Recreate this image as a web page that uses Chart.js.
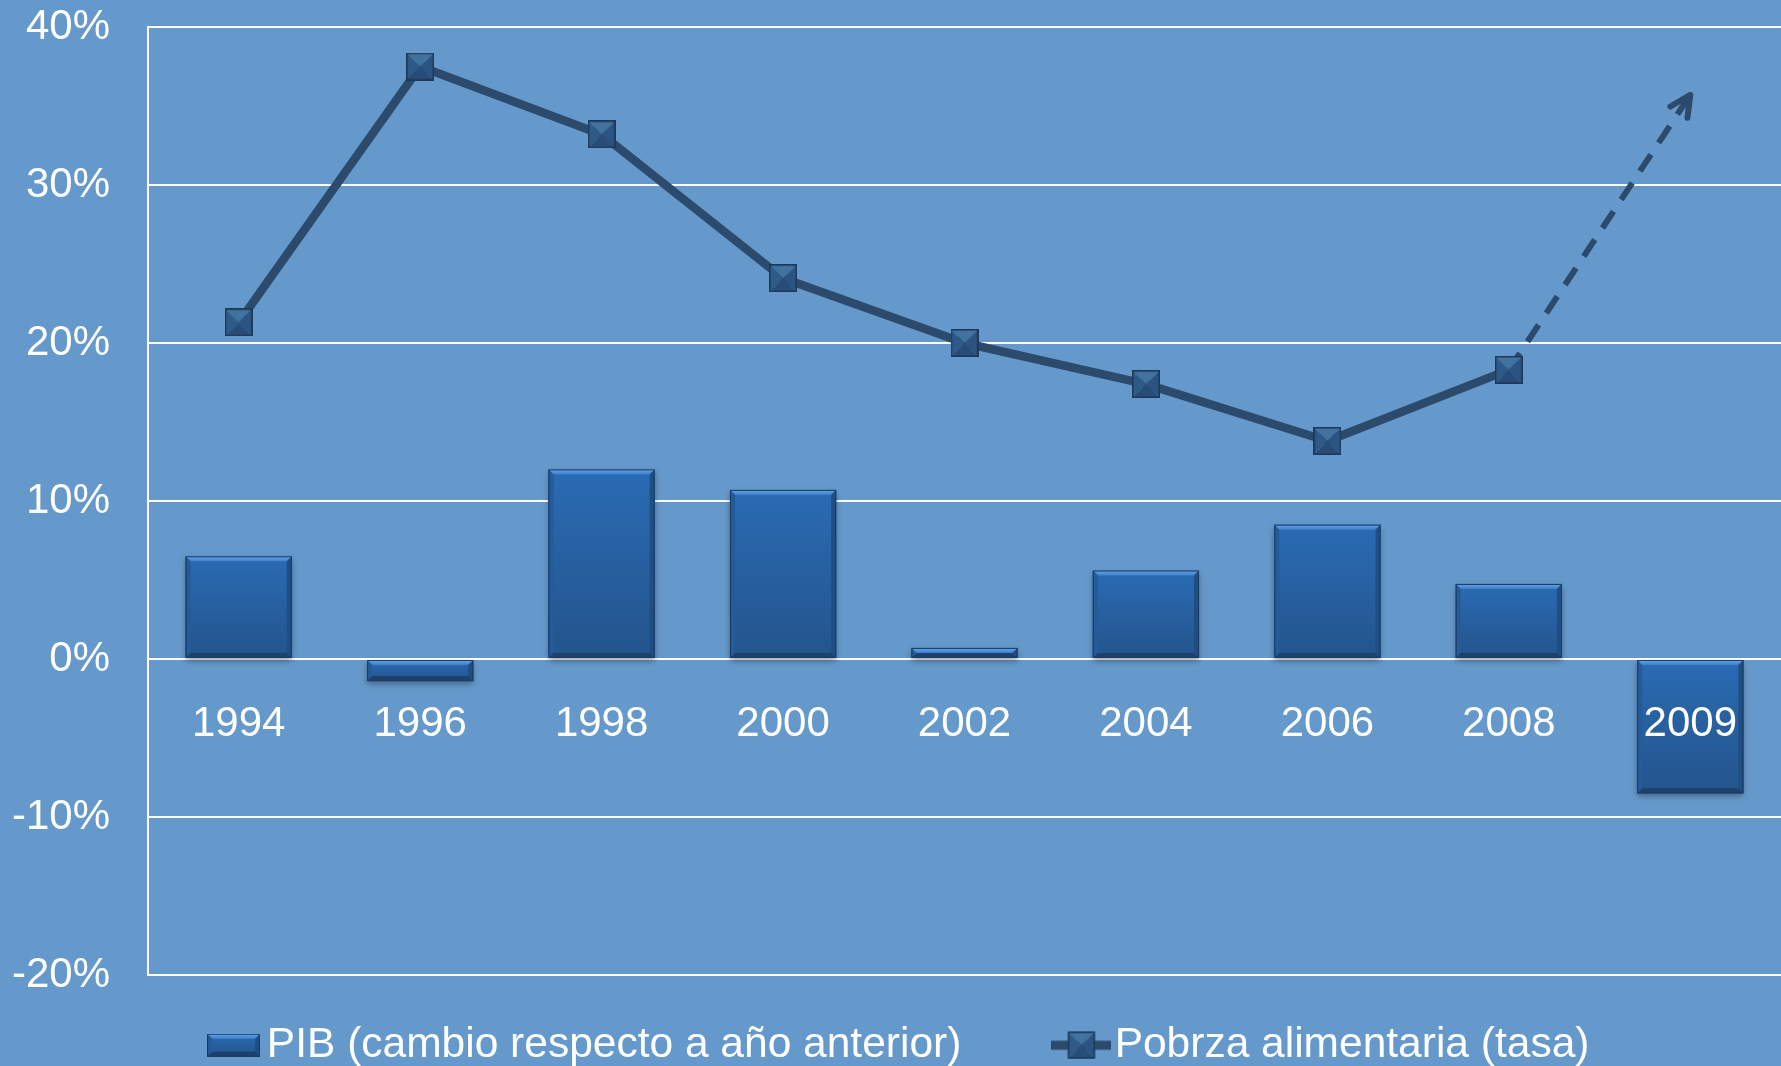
<!DOCTYPE html>
<html><head><meta charset="utf-8">
<script src="https://cdn.jsdelivr.net/npm/chart.js@4.4.1/dist/chart.umd.min.js"></script>
<style>
html,body{margin:0;padding:0;background:#6699cb;overflow:hidden}
#wrap{width:1781px;height:1066px;position:relative}
</style>
</head><body><div id="wrap"><canvas id="c"></canvas></div>
<script>
const categories = ['1994','1996','1998','2000','2002','2004','2006','2008','2009'];
const pibValues = [6.5, -1.4, 12.0, 10.7, 0.7, 5.6, 8.5, 4.75, -8.5];
const pobrezaValues = [21.3, 37.5, 33.2, 24.1, 20.0, 17.4, 13.8, 18.3, null];
const pobrezaProjection = [null, null, null, null, null, null, null, 18.3, 35.7];
const yMin = -20, yMax = 40, yStep = 10;
const seriesNames = ['PIB (cambio respecto a año anterior)', 'Pobrza alimentaria (tasa)'];

const FONT = "'Liberation Sans', Arial, sans-serif";
const LINE_COLOR = '#2c4a6c';

function drawPyramid(g, x, y, s) {
  const m = s / 2;
  const tri = (a, b, c, col) => { g.beginPath(); g.moveTo(a[0], a[1]); g.lineTo(b[0], b[1]); g.lineTo(c[0], c[1]); g.closePath(); g.fillStyle = col; g.fill(); };
  tri([x, y], [x + s, y], [x + m, y + m], '#42729f');
  tri([x, y], [x, y + s], [x + m, y + m], '#2f5a87');
  tri([x + s, y], [x + s, y + s], [x + m, y + m], '#2b5482');
  tri([x, y + s], [x + s, y + s], [x + m, y + m], '#264c77');
  g.strokeStyle = '#1c3859'; g.lineWidth = 1.5; g.strokeRect(x + 0.75, y + 0.75, s - 1.5, s - 1.5);
}
function makeMarker(s) {
  const c = document.createElement('canvas'); c.width = s; c.height = s;
  drawPyramid(c.getContext('2d'), 0, 0, s);
  return c;
}
function drawBevelBar(g, l, t, r, b) {
  const h = b - t, w = r - l;
  const e = Math.min(5, h / 2, w / 2);
  const grad = g.createLinearGradient(0, t, 0, b);
  grad.addColorStop(0, '#2a6bb4'); grad.addColorStop(1, '#24548c');
  g.fillStyle = grad; g.fillRect(l, t, w, h);
  const poly = (pts, col) => { g.beginPath(); g.moveTo(pts[0][0], pts[0][1]); for (let i = 1; i < pts.length; i++) g.lineTo(pts[i][0], pts[i][1]); g.closePath(); g.fillStyle = col; g.fill(); };
  const tg = g.createLinearGradient(0, t, 0, t + e);
  tg.addColorStop(0, '#64a6ec'); tg.addColorStop(1, '#3d80ca');
  poly([[l, t], [r, t], [r - e, t + e], [l + e, t + e]], tg);
  poly([[l, t], [l + e, t + e], [l + e, b - e], [l, b]], '#245b98');
  poly([[r, t], [r - e, t + e], [r - e, b - e], [r, b]], '#1f4e84');
  poly([[l, b], [l + e, b - e], [r - e, b - e], [r, b]], '#1c416d');
  g.strokeStyle = '#1b3b61'; g.lineWidth = 1; g.strokeRect(l + 0.5, t + 0.5, w - 1, h - 1);
}
function makeBarLegend(w, h) {
  const c = document.createElement('canvas'); c.width = w; c.height = h;
  drawBevelBar(c.getContext('2d'), 0, 0, w, h);
  return c;
}
function makeLineLegend(w, h, s) {
  const c = document.createElement('canvas'); c.width = w; c.height = h;
  const g = c.getContext('2d');
  g.fillStyle = LINE_COLOR; g.fillRect(0, h / 2 - 4.5, w, 9);
  drawPyramid(g, (w - s) / 2, (h - s) / 2, s);
  return c;
}
const marker = makeMarker(28);
const barLegend = makeBarLegend(53, 23);
const lineLegend = makeLineLegend(60, 28, 27);

const barStylePlugin = {
  id: 'barStyle',
  afterUpdate(chart) {
    if (chart.legend) { chart.legend.left += 15; chart.legend.right += 15; }
  },
  beforeDatasetDraw(chart, args) {
    if (args.index !== 0) return;
    const ctx = chart.ctx;
    args.meta.data.forEach(bar => {
      const p = bar.getProps(['x', 'y', 'base', 'width'], true);
      const l = p.x - p.width / 2, t = Math.min(p.y, p.base), b = Math.max(p.y, p.base);
      ctx.save();
      ctx.shadowColor = 'rgba(0,0,0,0.35)'; ctx.shadowBlur = 6; ctx.shadowOffsetY = 3;
      ctx.fillStyle = '#24548c'; ctx.fillRect(l, t, p.width, b - t);
      ctx.restore();
    });
  },
  afterDatasetDraw(chart, args) {
    if (args.index !== 0) return;
    const ctx = chart.ctx;
    args.meta.data.forEach(bar => {
      const p = bar.getProps(['x', 'y', 'base', 'width'], true);
      const l = p.x - p.width / 2, t = Math.min(p.y, p.base), b = Math.max(p.y, p.base);
      ctx.save(); drawBevelBar(ctx, l, t, l + p.width, b); ctx.restore();
    });
  }
};
const arrowPlugin = {
  id: 'arrowHead',
  afterDatasetDraw(chart, args) {
    if (args.index !== 1) return;
    const pts = args.meta.data;
    const a = pts[pts.length - 2], b = pts[pts.length - 1];
    const ang = Math.atan2(b.y - a.y, b.x - a.x);
    const ctx = chart.ctx, L = 23, spread = 0.46;
    ctx.save();
    ctx.strokeStyle = LINE_COLOR; ctx.lineWidth = 6; ctx.lineCap = 'round'; ctx.lineJoin = 'round';
    ctx.beginPath();
    ctx.moveTo(b.x - L * Math.cos(ang - spread), b.y - L * Math.sin(ang - spread));
    ctx.lineTo(b.x, b.y);
    ctx.lineTo(b.x - L * Math.cos(ang + spread), b.y - L * Math.sin(ang + spread));
    ctx.stroke();
    ctx.restore();
  }
};

new Chart(document.getElementById('c'), {
  data: {
    labels: categories,
    datasets: [
      { type: 'bar', label: seriesNames[0], data: pibValues, backgroundColor: '#24548c', borderWidth: 0,
        barPercentage: 0.585, categoryPercentage: 1.0, order: 3 },
      { type: 'line', label: 'proj', data: pobrezaProjection, borderColor: LINE_COLOR, borderWidth: 6,
        borderDash: [20, 14], pointRadius: 0, pointHoverRadius: 0, fill: false, tension: 0, order: 2 },
      { type: 'line', label: seriesNames[1], data: pobrezaValues, borderColor: LINE_COLOR, borderWidth: 8.5,
        pointStyle: marker, pointRadius: 14, pointBorderWidth: 0, fill: false, tension: 0, borderJoinStyle: 'round', order: 1 }
    ]
  },
  options: {
    responsive: true, maintainAspectRatio: false, animation: false, devicePixelRatio: 1,
    layout: { autoPadding: false, padding: { top: 27, left: 0, right: 0, bottom: 0 } },
    scales: {
      x: {
        position: { y: 0 },
        grid: { display: false, drawTicks: false },
        border: { display: false },
        ticks: { color: '#ffffff', font: { family: FONT, size: 42 }, padding: 40, z: 1, maxRotation: 0 },
        afterFit: s => { s.paddingLeft = 0; s.paddingRight = 0; s.paddingTop = 0; s.paddingBottom = 0; }
      },
      y: {
        min: yMin, max: yMax,
        grid: { color: '#ffffff', lineWidth: 2, drawTicks: false },
        border: { display: true, color: '#ffffff', width: 2 },
        ticks: { stepSize: yStep, color: '#ffffff', font: { family: FONT, size: 42 }, padding: 38,
          callback: v => v + '%' },
        afterFit: s => { s.width = 148; s.paddingTop = 0; s.paddingBottom = 0; s.paddingLeft = 0; s.paddingRight = 0; }
      }
    },
    plugins: {
      tooltip: { enabled: false },
      legend: {
        position: 'bottom', maxHeight: 91,
        labels: {
          color: '#ffffff', font: { family: FONT, size: 42.5 }, padding: 49,
          usePointStyle: true, pointStyleWidth: 24,
          generateLabels: () => [
            { text: seriesNames[0] + '     ', pointStyle: barLegend, datasetIndex: 0, hidden: false,
              fillStyle: 'transparent', strokeStyle: 'transparent', lineWidth: 0, fontColor: '#ffffff' },
            { text: seriesNames[1], pointStyle: lineLegend, datasetIndex: 2, hidden: false,
              fillStyle: 'transparent', strokeStyle: 'transparent', lineWidth: 0, fontColor: '#ffffff' }
          ]
        }
      }
    }
  },
  plugins: [barStylePlugin, arrowPlugin]
});
</script>
</body></html>
